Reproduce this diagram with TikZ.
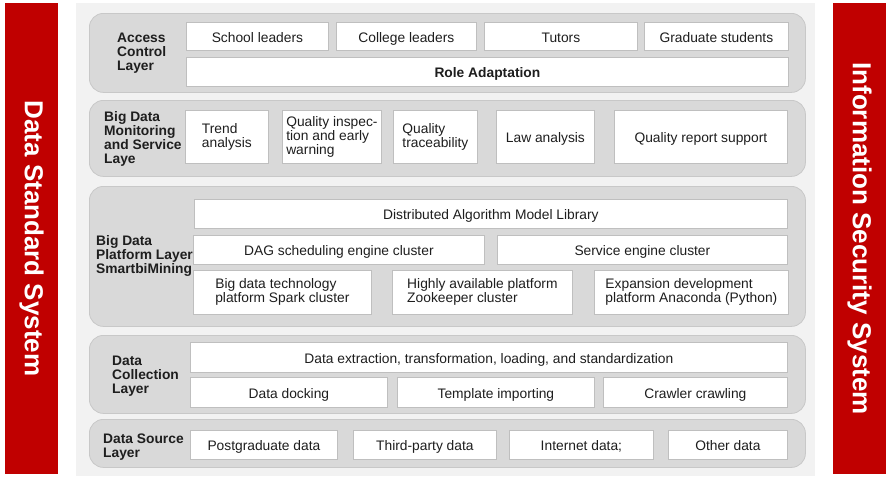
\documentclass[tikz,border=0pt]{standalone}
\usepackage{fontspec}
\setmainfont{Liberation Sans}
\definecolor{barred}{HTML}{C00000}
\definecolor{panelgray}{HTML}{F2F2F2}
\definecolor{layergray}{HTML}{D9D9D9}
\definecolor{layerline}{HTML}{C8C8C8}
\definecolor{boxline}{HTML}{BFBFBF}
\definecolor{inkgray}{HTML}{1E1E1E}
\begin{document}
\begin{tikzpicture}[x=1pt,y=-1pt,
  every node/.style={font=\fontsize{13.8}{14}\selectfont, text=inkgray, inner sep=2pt},
  layer/.style={draw=layerline, fill=layergray, line width=0.8pt, rounded corners=14pt, anchor=north west},
  cell/.style={draw=boxline, fill=white, line width=0.8pt, anchor=north west, align=center, text height=12pt, text depth=0pt},
  leftcell/.style={draw=boxline, fill=white, line width=0.8pt, anchor=north west, align=left},
  layername/.style={anchor=west, align=left, font=\bfseries\fontsize{13.8}{14}\selectfont},
  sidebar/.style={fill=barred, text=white, rotate=-90, minimum width=471pt, minimum height=53pt, font=\bfseries\fontsize{26}{28}\selectfont}]
\useasboundingbox (0,0) rectangle (890,479);
\fill[panelgray] (76,3) rectangle (815,476);
\node[sidebar] (standard) at (31.5,238.5) {Data Standard System};
\node[sidebar] (security) at (859.5,238.5) {Information Security System};

\node[layer, minimum width=716pt, minimum height=79pt] (access) at (89,13) {};
\node[layer, minimum width=716pt, minimum height=76pt] (monitor) at (89,100) {};
\node[layer, minimum width=716pt, minimum height=140pt] (platform) at (89,186) {};
\node[layer, minimum width=716pt, minimum height=78pt] (collect) at (89,335) {};
\node[layer, minimum width=716pt, minimum height=48pt] (source) at (89,419) {};

\node[layername] (accessname) at (115,53) {Access\\Control\\Layer};
\node[cell, minimum width=142pt, minimum height=28pt] (school) at (186,22) {School leaders};
\node[cell, minimum width=140pt, minimum height=28pt] (college) at (336,22) {College leaders};
\node[cell, minimum width=153pt, minimum height=28pt] (tutors) at (484,22) {Tutors};
\node[cell, minimum width=144pt, minimum height=28pt] (graduates) at (644,22) {Graduate students};
\node[cell, minimum width=602pt, minimum height=29pt, font=\bfseries\fontsize{13.8}{14}\selectfont] (role) at (186,57) {Role Adaptation};

\node[layername] (monitorname) at (102,139) {Big Data\\Monitoring\\and Service\\Laye};
\node[leftcell, minimum width=83pt, minimum height=53pt] (trend) at (185,110) {Trend\\analysis};
\node[leftcell, minimum width=99pt, minimum height=53pt] (inspection) at (282,110) {Quality inspec-\\tion and early\\warning};
\node[leftcell, minimum width=84pt, minimum height=53pt] (traceability) at (393,110) {Quality\\traceability};
\node[cell, minimum width=98pt, minimum height=53pt] (law) at (496,110) {Law analysis};
\node[cell, minimum width=173pt, minimum height=53pt] (report) at (614,110) {Quality report support};

\node[layername] (platformname) at (94,256) {Big Data\\Platform Layer\\SmartbiMining};
\node[cell, minimum width=593pt, minimum height=29pt] (library) at (194,199) {Distributed Algorithm Model Library};
\node[cell, minimum width=291pt, minimum height=29pt] (dag) at (193,235) {DAG scheduling engine cluster};
\node[cell, minimum width=290pt, minimum height=29pt] (service) at (497,235) {Service engine cluster};
\node[leftcell, minimum width=178pt, minimum height=44pt] (spark) at (193,270) {Big data technology\\platform Spark cluster};
\node[leftcell, minimum width=180pt, minimum height=44pt] (zookeeper) at (392,270) {Highly available platform\\Zookeeper cluster};
\node[leftcell, minimum width=194pt, minimum height=44pt] (anaconda) at (594,270) {Expansion development\\platform Anaconda (Python)};

\node[layername] (collectname) at (110,376) {Data\\Collection\\Layer};
\node[cell, minimum width=597pt, minimum height=30pt] (etl) at (190,342) {Data extraction, transformation, loading, and standardization};
\node[cell, minimum width=197pt, minimum height=30pt] (docking) at (190,377) {Data docking};
\node[cell, minimum width=197pt, minimum height=30pt] (template) at (397,377) {Template importing};
\node[cell, minimum width=184pt, minimum height=30pt] (crawler) at (603,377) {Crawler crawling};

\node[layername] (sourcename) at (101,447) {Data Source\\Layer};
\node[cell, minimum width=147pt, minimum height=29pt] (postgrad) at (190,430) {Postgraduate data};
\node[cell, minimum width=143pt, minimum height=29pt] (thirdparty) at (353,430) {Third-party data};
\node[cell, minimum width=144pt, minimum height=29pt] (internet) at (509,430) {Internet data;};
\node[cell, minimum width=119pt, minimum height=29pt] (other) at (668,430) {Other data};
\end{tikzpicture}
\end{document}
